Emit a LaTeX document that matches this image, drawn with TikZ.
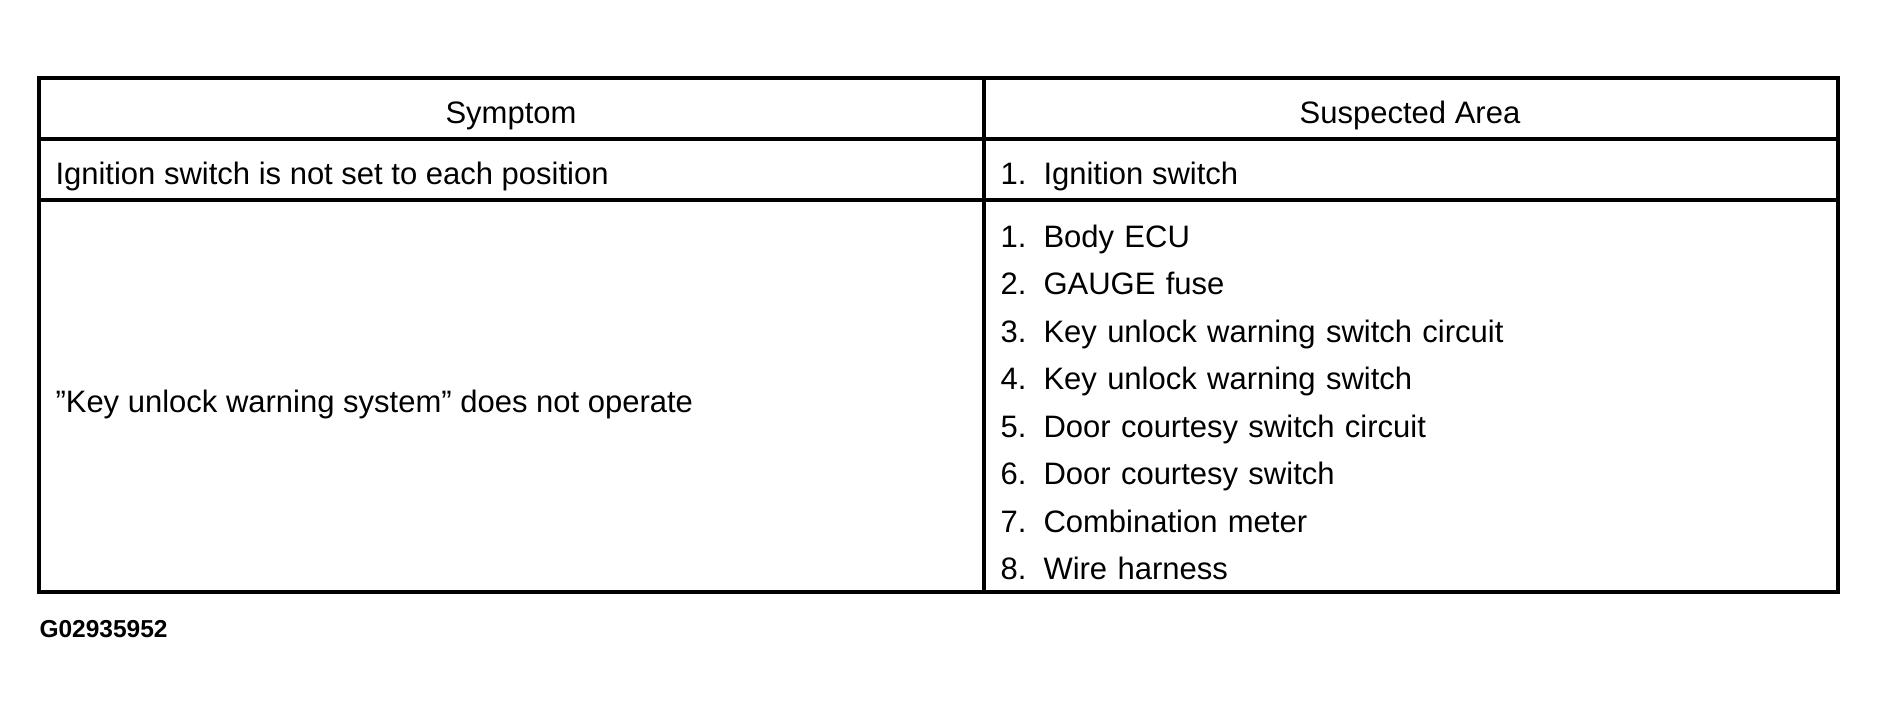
\documentclass[tikz,border=0pt]{standalone}
\usepackage{fontspec}
\setmainfont{Liberation Sans}
\usetikzlibrary{positioning}
\tikzset{
  rule/.style={line width=1.3pt},
  cell/.style={inner sep=0pt, anchor=base west},
  item/.style={inner sep=0pt, text width=300pt, align=left, text height=12pt, text depth=6.6pt},
}
\newcommand\entry[2]{\makebox[17.2pt][l]{#1.}#2}

\begin{document}
\begin{tikzpicture}[x=0.4pt, y=-0.4pt, font=\fontsize{12.4}{15}\selectfont]
  \useasboundingbox (0,0) rectangle (1877,713);
  % table frame
  \coordinate (tl) at (39,78);
  \coordinate (br) at (1838,592);
  \coordinate (colt) at (984,78);
  \coordinate (colb) at (984,592);
  \coordinate (headl) at (39,139);
  \coordinate (headr) at (1838,139);
  \coordinate (rowl) at (39,200);
  \coordinate (rowr) at (1838,200);
  \draw[rule] (tl) rectangle (br);
  \draw[rule] (headl) -- (headr)
              (rowl) -- (rowr)
              (colt) -- (colb);

  \node[anchor=base] (symptom) at (511,123) {Symptom};
  \node[anchor=base] (area) at (1410,123) {Suspected Area};

  \node[cell] (ign) at (55,184) {Ignition switch is not set to each position};
  \node[cell] (ign1) at (1000,184) {\entry{1}{Ignition switch}};

  \node[cell] (key) at (55,412) {”Key unlock warning system” does not operate};
  \node[item, anchor=base west] (a1) at (1000,247) {\entry{1}{Body ECU}};
  \node[item] (a2) [below=0pt of a1] {\entry{2}{GAUGE fuse}};
  \node[item] (a3) [below=0pt of a2] {\entry{3}{Key unlock warning switch circuit}};
  \node[item] (a4) [below=0pt of a3] {\entry{4}{Key unlock warning switch}};
  \node[item] (a5) [below=0pt of a4] {\entry{5}{Door courtesy switch circuit}};
  \node[item] (a6) [below=0pt of a5] {\entry{6}{Door courtesy switch}};
  \node[item] (a7) [below=0pt of a6] {\entry{7}{Combination meter}};
  \node[item] (a8) [below=0pt of a7] {\entry{8}{Wire harness}};

  \node[cell, font=\bfseries\fontsize{9.8}{11}\selectfont] (code) at (39,637) {G02935952};
\end{tikzpicture}
\end{document}
